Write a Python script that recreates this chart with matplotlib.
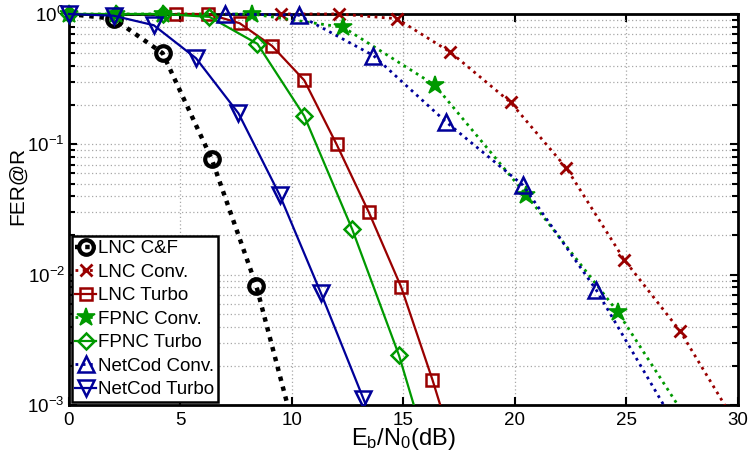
import matplotlib
matplotlib.use("Agg")
import matplotlib.pyplot as plt
from matplotlib.patches import Rectangle
from matplotlib.ticker import LogLocator, MultipleLocator, NullFormatter

plt.rcParams["font.family"] = ["Liberation Sans", "DejaVu Sans"]
plt.rcParams["mathtext.fontset"] = "custom"
plt.rcParams["mathtext.rm"] = "Liberation Sans"
plt.rcParams["mathtext.it"] = "Liberation Sans:italic"
plt.rcParams["axes.unicode_minus"] = False

# Eb/N0 (dB) vs frame error rate for each scheme
snr_lnc_cf = [0.0, 2.0, 4.2, 6.4, 8.4, 10.5]
fer_lnc_cf = [1.0, 0.92, 0.50, 0.077, 0.0082, 3.5e-4]

snr_lnc_conv = [9.5, 12.1, 14.7, 17.1, 19.8, 22.3, 24.9, 27.4, 29.95]
fer_lnc_conv = [1.0, 1.0, 0.92, 0.51, 0.21, 0.066, 0.013, 0.0037, 7e-4]

snr_lnc_turbo = [4.8, 6.25, 7.65, 9.1, 10.55, 12.0, 13.45, 14.9, 16.3, 17.7]
fer_lnc_turbo = [1.0, 1.0, 0.85, 0.57, 0.31, 0.10, 0.030, 0.0080, 0.00156, 2.6e-4]

snr_fpnc_conv = [0.0, 2.1, 4.2, 8.2, 12.3, 16.4, 20.5, 24.6, 28.8]
fer_fpnc_conv = [1.0, 1.0, 1.0, 1.0, 0.79, 0.285, 0.041, 0.0052, 4e-4]

snr_fpnc_turbo = [0.0, 2.1, 4.2, 6.3, 8.45, 10.55, 12.7, 14.8, 16.9]
fer_fpnc_turbo = [1.0, 1.0, 1.0, 0.95, 0.59, 0.165, 0.0223, 0.0024, 1.5e-4]

snr_netcod_conv = [7.0, 10.3, 13.65, 16.9, 20.35, 23.65, 27.0]
fer_netcod_conv = [1.0, 0.98, 0.48, 0.149, 0.0487, 0.0076, 8e-4]

snr_netcod_turbo = [0.0, 2.0, 3.8, 5.7, 7.6, 9.45, 11.3, 13.2, 15.1]
fer_netcod_turbo = [1.0, 0.97, 0.82, 0.457, 0.173, 0.0408, 0.0072, 0.00112, 1.7e-4]

RED = (0.6, 0, 0)
GREEN = (0, 0.6, 0)
BLUE = (0, 0, 0.6)
YMIN, YMAX = 1e-3, 1.0

fig = plt.figure(figsize=(7.49, 4.57), dpi=100)
ax = fig.add_axes([0.0921, 0.1138, 0.8932, 0.8556])
ax.set_yscale("log")


def curve(snr, fer, color, ls, lw, marker, ms, mew, label, first_mark=0,
          filled=False):
    # markers only where the point is inside the y range
    marks = [i for i, v in enumerate(fer) if v >= YMIN and i >= first_mark]
    line, = ax.plot(snr, fer, color=color, linestyle=ls, linewidth=lw,
                    marker=marker, markersize=ms, markeredgewidth=mew,
                    markerfacecolor=color if filled else "none",
                    markeredgecolor=color,
                    markevery=marks, label=label, zorder=3)
    # let the markers sitting on the top edge spill over it, cut at the bottom
    clip = Rectangle((-0.05, 0.0), 1.1, 1.1, transform=ax.transAxes)
    line.set_clip_path(clip)
    return line


curve(snr_lnc_cf, fer_lnc_cf, "black", (0, (1, 1.3)), 3.2, "o", 10.5, 3.0,
      "LNC C&F", first_mark=1)
curve(snr_lnc_conv, fer_lnc_conv, RED, (0, (1, 1.6)), 2.0, "x", 9, 2.0,
      "LNC Conv.")
curve(snr_lnc_turbo, fer_lnc_turbo, RED, "-", 1.6, "s", 9, 1.8,
      "LNC Turbo")
curve(snr_fpnc_conv, fer_fpnc_conv, GREEN, (0, (1, 1.6)), 2.0, "*", 13.5, 1.2,
      "FPNC Conv.", filled=True)
curve(snr_fpnc_turbo, fer_fpnc_turbo, GREEN, "-", 1.6, "D", 8, 1.8,
      "FPNC Turbo")
curve(snr_netcod_conv, fer_netcod_conv, BLUE, (0, (1, 1.6)), 2.0, "^", 11.5, 1.8,
      "NetCod Conv.")
curve(snr_netcod_turbo, fer_netcod_turbo, BLUE, "-", 1.6, "v", 11.5, 1.8,
      "NetCod Turbo")

ax.set_xlim(0, 30)
ax.set_ylim(YMIN, YMAX)
ax.xaxis.set_major_locator(MultipleLocator(5))
ax.yaxis.set_major_locator(LogLocator(base=10, numticks=10))
ax.yaxis.set_minor_locator(LogLocator(base=10, subs=range(2, 10), numticks=10))
ax.yaxis.set_minor_formatter(NullFormatter())

ax.grid(True, which="major", color="#a8a8a8", linestyle=(0, (1, 2)), linewidth=0.9)
ax.grid(True, which="minor", axis="y", color="#a8a8a8", linestyle=(0, (1, 2)),
        linewidth=0.9)
ax.set_axisbelow(True)

ax.tick_params(which="both", direction="in", top=True, right=True,
               labelsize=13.5, width=1.5, colors="black")
ax.tick_params(axis="x", pad=5)
ax.tick_params(axis="y", pad=3)
ax.tick_params(which="major", length=6)
ax.tick_params(which="minor", length=4)
for sp in ax.spines.values():
    sp.set_linewidth(2.0)
    sp.set_zorder(2.5)

ax.set_xlabel(r"$\mathregular{E_b/N_0}$(dB)", fontsize=17, labelpad=-2)
ax.set_ylabel("FER@R", fontsize=15)
ax.yaxis.set_label_coords(-0.063, 0.56)

leg = ax.legend(loc="lower left", bbox_to_anchor=(0.004, 0.008),
                borderaxespad=0, fontsize=13.5, handlelength=1.1,
                handletextpad=0.12, labelspacing=0.34, borderpad=0.2,
                fancybox=False, framealpha=1, edgecolor="black")
leg.get_frame().set_linewidth(1.8)
leg.set_zorder(5)

fig.savefig("out.png", dpi=100)
